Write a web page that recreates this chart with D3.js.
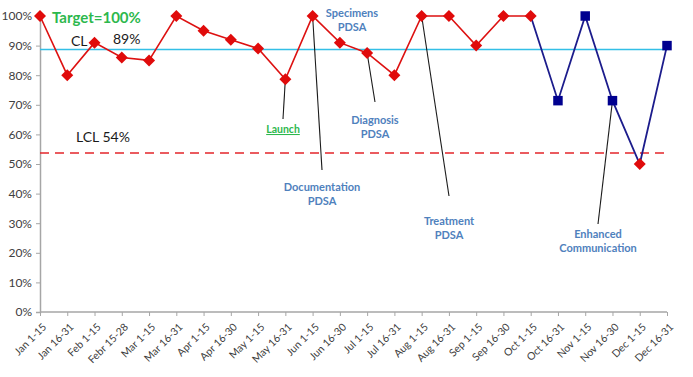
<!DOCTYPE html>
<html lang="en">
<head>
<meta charset="UTF-8">
<title>Control chart</title>
<style>
  body { margin: 0; background: #fff; }
  svg text { font-family: Lato, "Open Sans", sans-serif; }
</style>
</head>
<body>
<script src="https://d3js.org/d3.v7.min.js"></script>
<div id="chart"></div>
<script>
  // data
  const periods = ["Jan 1-15", "Jan 16-31", "Feb 1-15", "Febr 15-28", "Mar 1-15", "Mar 16-31",
    "Apr 1-15", "Apr 16-30", "May 1-15", "May 16-31", "Jun 1-15", "Jun 16-30",
    "Jul 1-15", "Jul 16-31", "Aug 1-15", "Aug 16-31", "Sep 1-15", "Sep 16-30",
    "Oct 1-15", "Oct 16-31", "Nov 1-15", "Nov 16-30", "Dec 1-15", "Dec 16-31"]
  const values = [1.00, 0.80, 0.91, 0.86, 0.85, 1.00, 0.95, 0.92, 0.89, 0.786, 1.00, 0.91,
    0.875, 0.80, 1.00, 1.00, 0.90, 1.00, 1.00, 0.714, 1.00, 0.714, 0.50, 0.90]
  // points drawn as blue squares (otherwise red diamonds)
  const squarePeriods = ["Oct 16-31", "Nov 1-15", "Nov 16-30", "Dec 16-31"]
  // line turns blue from this period on
  const blueFrom = "Oct 1-15"
  const CL = 0.887
  const LCL = 0.537
  const yTicks = [0, 0.1, 0.2, 0.3, 0.4, 0.5, 0.6, 0.7, 0.8, 0.9, 1.0]
  const notes = [
    { period: "May 16-31", lines: ["Launch"], tx: 283, ty: 119, lx: 283, ly: 133, color: "#2db84d", underline: true },
    { period: "Jun 1-15", lines: ["Documentation", "PDSA"], tx: 322, ty: 170, lx: 322, ly: 191, color: "#4f81bd" },
    { period: "Jul 1-15", lines: ["Diagnosis", "PDSA"], tx: 375, ty: 102, lx: 375, ly: 124, color: "#4f81bd" },
    { period: "Jun 1-15", lines: ["Specimens", "PDSA"], tx: null, lx: 352, ly: 17, color: "#4f81bd" },
    { period: "Aug 1-15", lines: ["Treatment", "PDSA"], tx: 449, ty: 196, lx: 449, ly: 225, color: "#4f81bd" },
    { period: "Nov 16-30", lines: ["Enhanced", "Communication"], tx: 598, ty: 224, lx: 598, ly: 238, color: "#4f81bd" }
  ]

  const W = 693, H = 377
  const svg = d3.select("#chart").append("svg")
    .attr("width", W).attr("height", H)

  const x = d3.scalePoint().domain(periods).range([40, 667])
  const y = d3.scaleLinear().domain([0, 1]).range([312, 16])

  // y axis
  const yAxis = svg.append("g")
    .attr("transform", "translate(40,0)")
    .call(d3.axisLeft(y).tickValues(yTicks).tickFormat(d3.format(".0%")).tickSize(4).tickPadding(4))
  yAxis.select(".domain").attr("stroke", "#a6a6a6").attr("stroke-width", 1.5)
  yAxis.selectAll(".tick line").attr("stroke", "#a6a6a6")
  yAxis.selectAll("text").attr("fill", "#404040").style("font-size", "12px")

  // x axis
  const xAxis = svg.append("g")
    .attr("transform", "translate(0,312)")
    .call(d3.axisBottom(x).tickSize(4).tickSizeOuter(0))
  xAxis.select(".domain").attr("stroke", "#a6a6a6").attr("stroke-width", 1.5)
    .attr("d", "M40,0H667")
  xAxis.selectAll(".tick line").attr("stroke", "#a6a6a6")
  xAxis.selectAll("text")
    .attr("fill", "#404040")
    .style("font-size", "10.5px")
    .attr("text-anchor", "end")
    .attr("x", 0).attr("y", 0).attr("dy", "0.35em")
    .attr("transform", "translate(4,13) rotate(-45)")

  // CL and LCL
  svg.append("line")
    .attr("x1", 40).attr("x2", 667)
    .attr("y1", y(CL)).attr("y2", y(CL))
    .attr("stroke", "#33bfe6").attr("stroke-width", 1.6)
  svg.append("line")
    .attr("x1", 40).attr("x2", 667)
    .attr("y1", y(LCL)).attr("y2", y(LCL))
    .attr("stroke", "#e3262b").attr("stroke-width", 1.6)
    .attr("stroke-dasharray", "9,6")

  // line segments
  const data = periods.map((p, i) => ({ p, v: values[i] }))
  const cut = periods.indexOf(blueFrom)
  const line = d3.line().x(d => x(d.p)).y(d => y(d.v))
  svg.append("path").datum(data.slice(0, cut + 1))
    .attr("d", line).attr("fill", "none")
    .attr("stroke", "#dd1111").attr("stroke-width", 1.6)
  svg.append("path").datum(data.slice(cut))
    .attr("d", line).attr("fill", "none")
    .attr("stroke", "#1c1c8c").attr("stroke-width", 1.8)

  // annotation leader lines
  notes.filter(n => n.tx !== null).forEach(n => {
    svg.append("line")
      .attr("x1", x(n.period)).attr("y1", y(values[periods.indexOf(n.period)]))
      .attr("x2", n.tx).attr("y2", n.ty)
      .attr("stroke", "#1a1a1a").attr("stroke-width", 1.1)
  })

  // markers
  svg.selectAll(".mk").data(data).enter().append("path")
    .attr("transform", d => `translate(${x(d.p)},${y(d.v)})`)
    .attr("d", d => squarePeriods.includes(d.p)
      ? d3.symbol(d3.symbolSquare, 90)()
      : "M0,-6L6,0L0,6L-6,0Z")
    .attr("fill", d => squarePeriods.includes(d.p) ? "#00008f" : "#e00b0b")

  // annotation labels
  notes.forEach(n => {
    const t = svg.append("text")
      .attr("x", n.lx).attr("y", n.ly)
      .attr("text-anchor", "middle")
      .attr("fill", n.color)
      .style("font-size", n.underline ? "10.5px" : "11px").style("font-weight", "bold")
      .style("text-decoration", n.underline ? "underline" : null)
    n.lines.forEach((s, i) => {
      t.append("tspan").attr("x", n.lx).attr("dy", i === 0 ? 0 : 14).text(s)
    })
  })

  // text labels
  svg.append("text").attr("x", 52).attr("y", 23)
    .attr("fill", "#2db84d").style("font-size", "15px").style("font-weight", "bold")
    .text("Target=100%")
  svg.append("text").attr("x", 71).attr("y", 46)
    .attr("fill", "#1a1a1a").style("font-size", "14px").text("CL")
  svg.append("text").attr("x", 113).attr("y", 44)
    .attr("fill", "#1a1a1a").style("font-size", "14px").text("89%")
  svg.append("text").attr("x", 76).attr("y", 142)
    .attr("fill", "#1a1a1a").style("font-size", "14px").text("LCL 54%")
</script>
</body>
</html>
